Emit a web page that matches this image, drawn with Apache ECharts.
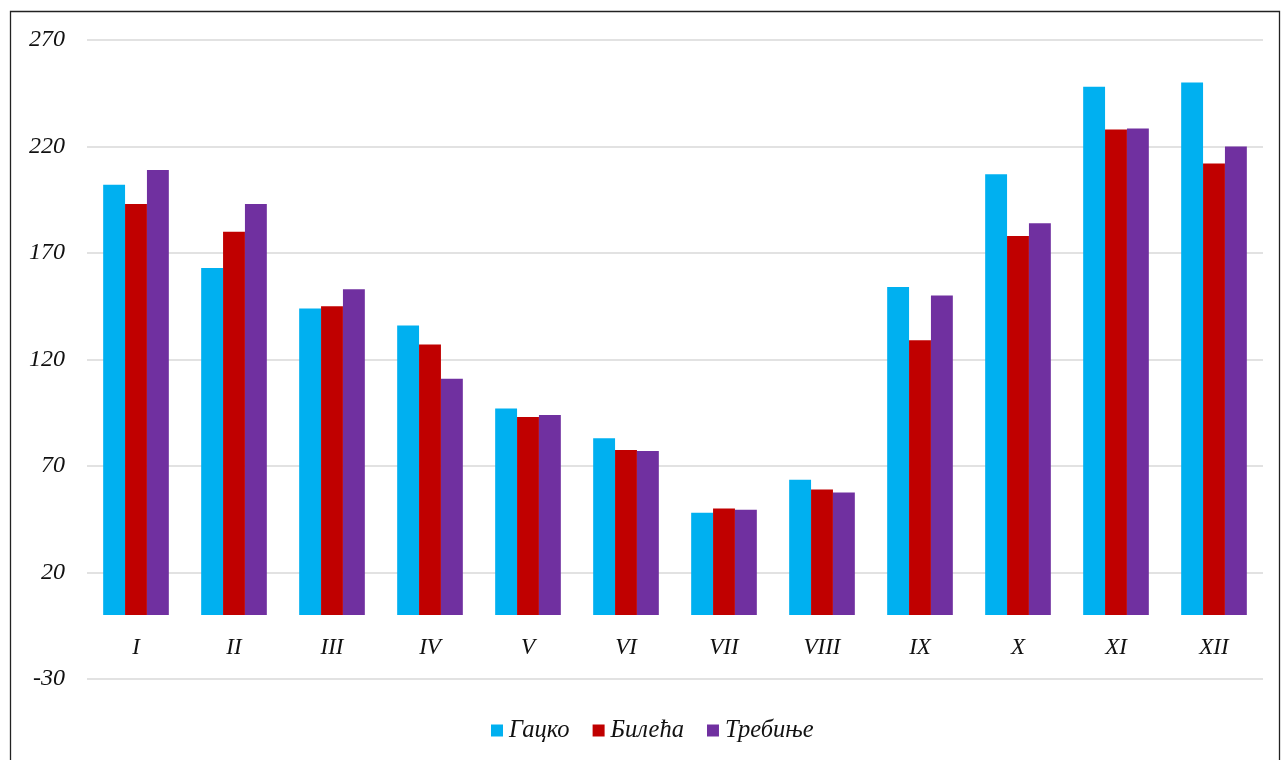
<!DOCTYPE html>
<html>
<head>
<meta charset="utf-8">
<style>
  html, body { margin: 0; padding: 0; background: #fff; }
  #chart { width: 1282px; height: 760px; }
</style>
<script src="https://cdn.jsdelivr.net/npm/echarts@6/dist/echarts.min.js"></script>
</head>
<body>
<div id="chart"></div>
<script>
// Monthly precipitation (mm) by station
const months = ['I', 'II', 'III', 'IV', 'V', 'VI', 'VII', 'VIII', 'IX', 'X', 'XI', 'XII'];
const gacko   = [202, 163, 144, 136, 97, 83, 48, 63.5, 154, 207, 248, 250];
const bileca  = [193, 180, 145, 127, 93, 77.5, 50, 59, 129, 178, 228, 212];
const trebinje = [209, 193, 153, 111, 94, 77, 49.5, 57.5, 150, 184, 228.5, 220];
const seriesNames = ['Гацко', 'Билећа', 'Требиње'];
const seriesColors = ['#00B0F0', '#C00000', '#7030A0'];

const fontFamily = '"Liberation Serif", "DejaVu Serif", serif';
const chart = echarts.init(document.getElementById('chart'), null, { renderer: 'canvas' });

const data = [gacko, bileca, trebinje];

chart.setOption({
  animation: false,
  backgroundColor: '#fff',
  graphic: [{
    type: 'rect',
    shape: { x: 10.5, y: 11.5, width: 1269, height: 800 },
    style: { fill: 'none', stroke: '#222', lineWidth: 1.3 },
    silent: true
  }],
  grid: { left: 87, right: 19, top: 40, bottom: 81, containLabel: false },
  legend: {
    bottom: 12,
    left: 486,
    itemWidth: 12,
    itemHeight: 12,
    itemGap: 23,
    icon: 'rect',
    textStyle: { fontFamily, fontStyle: 'italic', fontSize: 24.5, color: '#111', padding: [0, 0, 0, 1] },
    data: seriesNames
  },
  xAxis: {
    type: 'category',
    data: months,
    axisLine: { show: false },
    axisTick: { show: false },
    // month labels sit just below the zero line, above the -30 gridline
    axisLabel: { fontFamily, fontStyle: 'italic', fontSize: 23, color: '#111', margin: -43 }
  },
  yAxis: {
    type: 'value',
    min: -30,
    max: 270,
    interval: 50,
    axisLine: { show: false },
    axisTick: { show: false },
    axisLabel: { fontFamily, fontStyle: 'italic', fontSize: 24, color: '#111', margin: 22 },
    splitLine: { lineStyle: { color: '#d9d9d9', width: 1.5 } }
  },
  series: seriesNames.map((name, i) => ({
    name,
    type: 'bar',
    data: data[i],
    barGap: '0%',
    barCategoryGap: '33%',
    itemStyle: { color: seriesColors[i] }
  }))
});
</script>
</body>
</html>
